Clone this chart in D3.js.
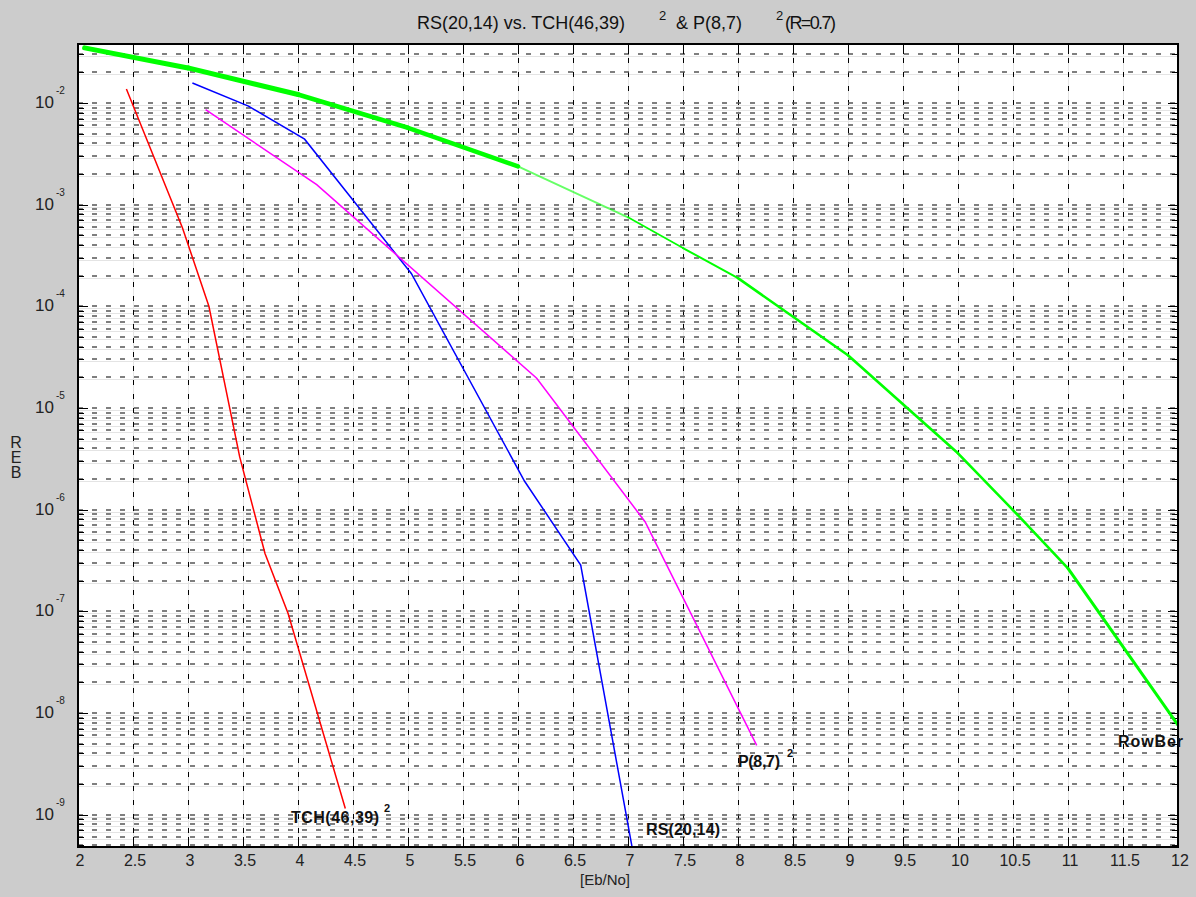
<!DOCTYPE html>
<html>
<head>
<meta charset="utf-8">
<title>RS(20,14) vs. TCH(46,39)</title>
<style>
  body { margin: 0; background: #cccccc; }
  svg { display: block; font-family: "Liberation Sans", Arial, sans-serif; }
</style>
</head>
<body>
<div id="chart"></div>
<script src="https://d3js.org/d3.v7.min.js"></script>
<script>
// tick labels
var xTicks = [2, 2.5, 3, 3.5, 4, 4.5, 5, 5.5, 6, 6.5, 7, 7.5, 8, 8.5, 9, 9.5, 10, 10.5, 11, 11.5, 12];
var yExponents = [-2, -3, -4, -5, -6, -7, -8, -9];

// TCH(46,39)^2
var tchEbNo = [2.44, 2.95, 3.19, 3.47, 3.70, 3.91, 4.43];
var tchBer  = [1.37e-2, 5.9e-4, 1.0e-4, 3.3e-6, 3.7e-7, 9.5e-8, 1.15e-9];

// RS(20,14)
var rsEbNo = [3.04, 3.55, 4.06, 5.03, 6.06, 6.57, 7.04];
var rsBer  = [1.57e-2, 9.3e-3, 4.4e-3, 2.1e-4, 1.9e-6, 2.85e-7, 4.6e-10];

// P(8,7)^2
var pEbNo = [3.16, 4.17, 6.17, 7.155, 8.17];
var pBer  = [8.6e-3, 1.57e-3, 1.96e-5, 7.6e-7, 4.8e-9];

// RowBer
var rowEbNo = [2.06, 3, 4, 5, 6, 7, 7.5, 8, 9, 10, 10.5, 11, 12];
var rowBer  = [3.48e-2, 2.21e-2, 1.21e-2, 5.7e-3, 2.38e-3, 7.5e-4, 3.74e-4, 1.89e-4, 3.3e-5, 3.58e-6, 9.9e-7, 2.64e-7, 7.6e-9];

var width = 1196, height = 897;
var pLeft = 78, pRight = 1178, pTop = 44, pBottom = 847;

var svg = d3.select("#chart").append("svg")
    .attr("width", width)
    .attr("height", height);

var x = d3.scaleLinear().domain([2, 12]).range([pLeft, pRight]);
var y = d3.scaleLog().domain([4.8e-10, 0.038]).range([pBottom, pTop]);

svg.append("rect")
    .attr("x", pLeft).attr("y", pTop)
    .attr("width", pRight - pLeft).attr("height", pBottom - pTop)
    .attr("fill", "#ffffff");

// all y grid values (1..9 x 10^e) inside the domain
var yGrid = [];
for (var e = -10; e <= -1; e++) {
    for (var k = 1; k <= 9; k++) {
        var v = k * Math.pow(10, e);
        if (v >= y.domain()[0] && v <= y.domain()[1]) yGrid.push(v);
    }
}
var xInner = xTicks.filter(function(d) { return d > 2 && d < 12; });

// light solid grid
var grid = svg.append("g").attr("class", "grid");
grid.selectAll(".gx").data(xInner).enter().append("line")
    .attr("x1", function(d) { return Math.round(x(d)) + 0.5; })
    .attr("x2", function(d) { return Math.round(x(d)) + 0.5; })
    .attr("y1", pTop).attr("y2", pBottom)
    .attr("stroke", "#e4e4e4").attr("stroke-width", 1);
grid.selectAll(".gy").data(yGrid).enter().append("line")
    .attr("x1", pLeft).attr("x2", pRight)
    .attr("y1", function(d) { return Math.round(y(d)) + 2.5; })
    .attr("y2", function(d) { return Math.round(y(d)) + 2.5; })
    .attr("stroke", "#e4e4e4").attr("stroke-width", 1);

// black dashed grid
var dash = svg.append("g").attr("class", "dash");
dash.selectAll(".dx").data(xInner).enter().append("line")
    .attr("x1", function(d) { return Math.round(x(d)) + 0.5; })
    .attr("x2", function(d) { return Math.round(x(d)) + 0.5; })
    .attr("y1", pTop).attr("y2", pBottom)
    .attr("stroke", "#000").attr("stroke-width", 1)
    .attr("stroke-dasharray", "5,9");
dash.selectAll(".dy").data(yGrid).enter().append("line")
    .attr("x1", pLeft).attr("x2", pRight)
    .attr("y1", function(d) { return Math.round(y(d)); })
    .attr("y2", function(d) { return Math.round(y(d)); })
    .attr("stroke", "#555").attr("stroke-width", 1.4)
    .attr("stroke-dasharray", "5,9");

// ticks
var ticks = svg.append("g").attr("stroke", "#000").attr("stroke-width", 1);
xInner.forEach(function(d) {
    var px = Math.round(x(d)) + 0.5;
    ticks.append("line").attr("x1", px).attr("x2", px).attr("y1", pBottom).attr("y2", pBottom - 10);
    ticks.append("line").attr("x1", px).attr("x2", px).attr("y1", pTop).attr("y2", pTop + 10);
});
yGrid.forEach(function(d) {
    var py = Math.round(y(d)) + 0.5;
    var len = Math.abs(Math.log10(d) - Math.round(Math.log10(d))) < 1e-9 ? 10 : 6;
    ticks.append("line").attr("x1", pLeft).attr("x2", pLeft + len).attr("y1", py).attr("y2", py);
    ticks.append("line").attr("x1", pRight).attr("x2", pRight - len).attr("y1", py).attr("y2", py);
});

// curves
svg.append("clipPath").attr("id", "clip")
    .append("rect").attr("x", pLeft).attr("y", pTop)
    .attr("width", pRight - pLeft).attr("height", pBottom - pTop);

var plot = svg.append("g").attr("clip-path", "url(#clip)");

var line = d3.line()
    .x(function(d) { return x(d[0]); })
    .y(function(d) { return y(d[1]); });

function pairs(xs, ys) {
    return xs.map(function(v, i) { return [v, ys[i]]; });
}

// RowBer drawn per segment, the line gets thin after 6 dB
var rowPts = pairs(rowEbNo, rowBer);
function greenWidth(xm) {
    if (xm < 4) return 5;
    if (xm < 6) return 4.5;
    if (xm < 7) return 2;
    if (xm < 7.5) return 1.6;
    if (xm < 8) return 2;
    if (xm < 11) return 2.6;
    return 3;
}
for (var i = 0; i < rowPts.length - 1; i++) {
    var xm = (rowPts[i][0] + rowPts[i + 1][0]) / 2;
    plot.append("path")
        .attr("d", line([rowPts[i], rowPts[i + 1]]))
        .attr("fill", "none")
        .attr("stroke", "#00ff00")
        .attr("stroke-opacity", xm > 6 && xm < 7 ? 0.6 : 1)
        .attr("stroke-width", greenWidth(xm))
        .attr("stroke-linecap", "round");
}

var series = [
    { pts: pairs(tchEbNo, tchBer), color: "#ff0000" },
    { pts: pairs(rsEbNo, rsBer), color: "#0000ff" },
    { pts: pairs(pEbNo, pBer), color: "#ff00ff" }
];
plot.selectAll(".curve").data(series).enter().append("path")
    .attr("d", function(d) { return line(d.pts); })
    .attr("fill", "none")
    .attr("stroke", function(d) { return d.color; })
    .attr("stroke-width", 1.5);

// axes box
svg.append("rect")
    .attr("x", pLeft).attr("y", pTop)
    .attr("width", pRight - pLeft).attr("height", pBottom - pTop)
    .attr("fill", "none").attr("stroke", "#000").attr("stroke-width", 2);

// x tick labels
svg.selectAll(".xl").data(xTicks).enter().append("text")
    .attr("x", function(d) { return x(d) + 2; })
    .attr("y", 866)
    .attr("text-anchor", "middle")
    .attr("font-size", 16)
    .attr("fill", "#222")
    .text(function(d) { return d; });

// y tick labels: 10 with exponent
yExponents.forEach(function(e) {
    var py = y(Math.pow(10, e));
    svg.append("text")
        .attr("x", 54).attr("y", py + 5)
        .attr("text-anchor", "end")
        .attr("font-size", 17)
        .attr("fill", "#222")
        .text("10");
    svg.append("text")
        .attr("x", 56).attr("y", py - 9)
        .attr("font-size", 10)
        .attr("fill", "#222")
        .text(e);
});

// axis titles
svg.append("text")
    .attr("x", 605).attr("y", 885)
    .attr("text-anchor", "middle")
    .attr("font-size", 15)
    .attr("fill", "#222")
    .text("[Eb/No]");

["R", "E", "B"].forEach(function(c, i) {
    svg.append("text")
        .attr("x", 16).attr("y", 448 + i * 15)
        .attr("text-anchor", "middle")
        .attr("font-size", 16)
        .attr("fill", "#222")
        .text(c);
});

// title
var title = svg.append("g").attr("fill", "#111");
title.append("text").attr("x", 417).attr("y", 29).attr("font-size", 18)
    .attr("textLength", 208)
    .text("RS(20,14) vs. TCH(46,39)");
title.append("text").attr("x", 659).attr("y", 20).attr("font-size", 13).text("2");
title.append("text").attr("x", 676).attr("y", 29).attr("font-size", 18)
    .text("& P(8,7)");
title.append("text").attr("x", 776).attr("y", 20).attr("font-size", 13).text("2");
title.append("text").attr("x", 785).attr("y", 29).attr("font-size", 18)
    .attr("letter-spacing", -1.6)
    .text("(R=0.7)");

// curve labels
var labels = svg.append("g").attr("font-weight", "bold").attr("fill", "#111");
labels.append("text").attr("x", 291).attr("y", 823).attr("font-size", 16).attr("textLength", 88).text("TCH(46,39)");
labels.append("text").attr("x", 384).attr("y", 812).attr("font-size", 11).text("2");
labels.append("text").attr("x", 646).attr("y", 835).attr("font-size", 16).attr("textLength", 74).text("RS(20,14)");
labels.append("text").attr("x", 738).attr("y", 767).attr("font-size", 16).attr("textLength", 42).text("P(8,7)");
labels.append("text").attr("x", 787).attr("y", 757).attr("font-size", 11).text("2");
labels.append("text").attr("x", 1118).attr("y", 747).attr("font-size", 16).attr("textLength", 65).text("RowBer");
</script>
</body>
</html>
